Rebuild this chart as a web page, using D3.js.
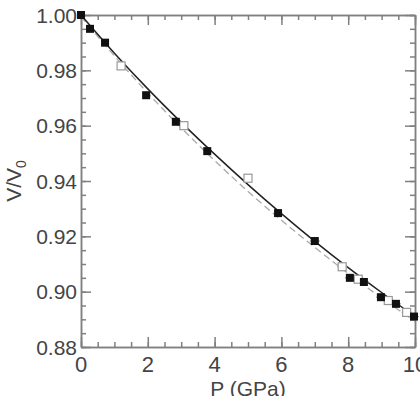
<!DOCTYPE html>
<html>
<head>
<meta charset="utf-8">
<script src="https://cdn.jsdelivr.net/npm/d3@7"></script>
<style>
  body { margin: 0; background: #fff; }
  svg { display: block; }
</style>
</head>
<body>
<div id="chart"></div>
<script>
// filled squares (P in GPa, V/V0)
const filledP = [0, 0.27, 0.72, 1.95, 2.84, 3.78, 5.9, 7.0, 8.05, 8.47, 8.98, 9.43, 9.97];
const filledV = [1.000, 0.995, 0.990, 0.971, 0.9614, 0.9508, 0.9284, 0.9183, 0.905, 0.9035, 0.898, 0.8956, 0.891];
// open squares
const openP = [1.2, 3.08, 5.0, 7.82, 8.3, 9.2, 9.75];
const openV = [0.9816, 0.960, 0.941, 0.909, 0.9045, 0.8968, 0.8925];
// fit curves
const fitP = [0, 1, 2, 3, 4, 5, 6, 7, 8, 9, 10];
const solidV = [1.0, 0.9862, 0.9733, 0.9612, 0.9497, 0.9387, 0.9282, 0.9182, 0.9087, 0.8997, 0.891];
const dashV = [0.9995, 0.9852, 0.9718, 0.9592, 0.9474, 0.9362, 0.9258, 0.916, 0.9066, 0.8977, 0.8893];
const xTicks = [0, 2, 4, 6, 8, 10];
const yTicks = [0.88, 0.90, 0.92, 0.94, 0.96, 0.98, 1.00];

const w = 420, h = 396;
const mLeft = 81, mRight = 415, mTop = 15, mBottom = 347;
const axisColor = "#808080", textColor = "#444";

const x = d3.scaleLinear().domain([0, 10]).range([mLeft, mRight]);
const y = d3.scaleLinear().domain([0.88, 1.00]).range([mBottom, mTop]);

const svg = d3.select("#chart").append("svg")
  .attr("width", w).attr("height", h)
  .style("font-family", "'Liberation Sans', Arial, sans-serif");

// ticks on all four sides, pointing inward
const xMinor = d3.range(0, 10.01, 0.5);
const yMinor = d3.range(0.88, 1.0001, 0.005);
function addAxis(axis, tr) {
  const g = svg.append("g").attr("transform", tr).call(axis);
  g.selectAll("text").remove();
  g.select(".domain").attr("stroke", axisColor).attr("stroke-width", 1.5);
  g.selectAll("line").attr("stroke", axisColor).attr("stroke-width", 1.5);
  return g;
}
addAxis(d3.axisBottom(x).tickValues(xMinor).tickSize(-5).tickSizeOuter(0), `translate(0,${mBottom})`);
addAxis(d3.axisBottom(x).tickValues(xTicks).tickSize(-10).tickSizeOuter(0), `translate(0,${mBottom})`);
addAxis(d3.axisTop(x).tickValues(xMinor).tickSize(-5).tickSizeOuter(0), `translate(0,${mTop})`);
addAxis(d3.axisTop(x).tickValues(xTicks).tickSize(-10).tickSizeOuter(0), `translate(0,${mTop})`);
addAxis(d3.axisLeft(y).tickValues(yMinor).tickSize(-5).tickSizeOuter(0), `translate(${mLeft},0)`);
addAxis(d3.axisLeft(y).tickValues(yTicks).tickSize(-10).tickSizeOuter(0), `translate(${mLeft},0)`);
addAxis(d3.axisRight(y).tickValues(yMinor).tickSize(-5).tickSizeOuter(0), `translate(${mRight},0)`);
addAxis(d3.axisRight(y).tickValues(yTicks).tickSize(-10).tickSizeOuter(0), `translate(${mRight},0)`);

// tick labels
svg.selectAll(".xl").data(xTicks).enter().append("text")
  .attr("x", d => x(d)).attr("y", 372)
  .attr("text-anchor", "middle").attr("font-size", 22).attr("fill", textColor)
  .text(d => d);
svg.selectAll(".yl").data(yTicks).enter().append("text")
  .attr("x", mLeft - 4).attr("y", d => y(d) + 7.5)
  .attr("text-anchor", "end").attr("font-size", 21).attr("fill", textColor)
  .text(d => d.toFixed(2));

// axis titles
svg.append("text").attr("x", 248).attr("y", 396)
  .attr("text-anchor", "middle").attr("font-size", 21).attr("fill", textColor)
  .text("P (GPa)");
const yl = svg.append("text")
  .attr("transform", "translate(21,181) rotate(-90)")
  .attr("text-anchor", "middle").attr("font-size", 21).attr("fill", textColor);
yl.append("tspan").text("V/V");
yl.append("tspan").attr("font-size", 14).attr("dy", 5).text("0");

// fit lines
const line = d3.line().x(d => x(d[0])).y(d => y(d[1])).curve(d3.curveMonotoneX);
svg.append("path").datum(fitP.map((p, i) => [p, dashV[i]]))
  .attr("d", line).attr("fill", "none")
  .attr("stroke", "#aaa").attr("stroke-width", 1.3).attr("stroke-dasharray", "7,4");
svg.append("path").datum(fitP.map((p, i) => [p, solidV[i]]))
  .attr("d", line).attr("fill", "none")
  .attr("stroke", "#222").attr("stroke-width", 1.5);

// error bars (horizontal)
const err = 0.15;
const openData = openP.map((p, i) => [p, openV[i]]);
const filledData = filledP.map((p, i) => [p, filledV[i]]);
svg.selectAll(".eo").data(openData.filter(d => d[0] > 7)).enter().append("line")
  .attr("x1", d => x(d[0] - err)).attr("x2", d => x(d[0] + err))
  .attr("y1", d => y(d[1])).attr("y2", d => y(d[1]))
  .attr("stroke", "#bbb").attr("stroke-width", 1.2);
svg.selectAll(".ef").data(filledData.filter(d => d[0] > 6.5)).enter().append("line")
  .attr("x1", d => x(d[0] - err)).attr("x2", d => x(d[0] + err))
  .attr("y1", d => y(d[1])).attr("y2", d => y(d[1]))
  .attr("stroke", "#999").attr("stroke-width", 1.2);

// open squares
const s = 8;
svg.selectAll(".op").data(openData).enter().append("rect")
  .attr("x", d => x(d[0]) - s / 2).attr("y", d => y(d[1]) - s / 2)
  .attr("width", s).attr("height", s)
  .attr("fill", "#fff").attr("stroke", "#999").attr("stroke-width", 1.2);

// filled squares
svg.selectAll(".fp").data(filledData).enter().append("rect")
  .attr("x", d => x(d[0]) - s / 2).attr("y", d => y(d[1]) - s / 2)
  .attr("width", s).attr("height", s)
  .attr("fill", "#111");
</script>
</body>
</html>
